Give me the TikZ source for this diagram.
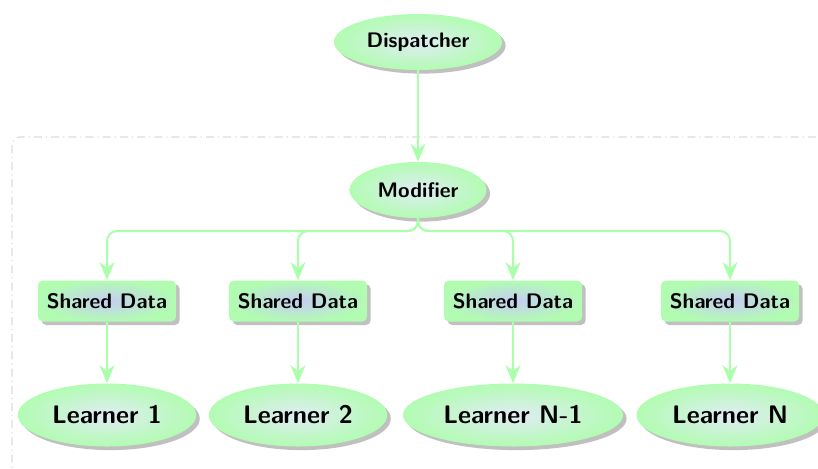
\documentclass[tikz,border=0pt]{standalone}
\usetikzlibrary{shapes.geometric,shadows,arrows.meta}
\definecolor{linkgreen}{RGB}{170,255,170}
\definecolor{framegray}{RGB}{220,220,220}
\definecolor{rimgreen}{RGB}{178,252,178}
\definecolor{ellcore}{RGB}{224,236,244}
\definecolor{boxcore}{RGB}{198,204,245}
\tikzset{
  shade fill/.style={outer color=rimgreen,
    drop shadow={shadow xshift=1.8pt, shadow yshift=-1.8pt, opacity=.45, fill=black!55}},
  smallell/.style={ellipse, shade fill, inner color=ellcore, inner xsep=4pt, minimum height=28pt,
    font=\sffamily\bfseries\fontsize{10.5}{12}\selectfont},
  bigell/.style={ellipse, shade fill, inner color=ellcore, inner xsep=4.1pt, minimum height=31.5pt,
    font=\sffamily\bfseries\fontsize{12.7}{15}\selectfont},
  databox/.style={rectangle, rounded corners=2.5pt, shade fill, inner color=boxcore, inner xsep=4.5pt,
    minimum height=20.5pt, font=\sffamily\bfseries\fontsize{10.5}{12}\selectfont},
  link/.style={draw=linkgreen, line width=1pt,
    -{Stealth[length=9pt, width=7.5pt, inset=3pt]}},
  frame/.style={draw=framegray, line width=0.6pt,
    dash pattern=on 4pt off 2pt on 0.6pt off 2pt, rounded corners=4pt}
}
\begin{document}
\begin{tikzpicture}[x=0.5pt, y=-0.5pt]
  \useasboundingbox (0,0) rectangle (818,468);
  \clip (0,0) rectangle (818,468);

  % enclosing frame of the worker group
  \draw[frame] (12,137) rectangle (860,500);

  % nodes
  \node[smallell] (disp) at (418,42) {Dispatcher};
  \node[smallell] (mod) at (418,190) {Modifier};

  \node[databox] (sd1) at (107,301) {Shared Data};
  \node[databox] (sd2) at (298,301) {Shared Data};
  \node[databox] (sd3) at (513,301) {Shared Data};
  \node[databox] (sd4) at (730,301) {Shared Data};

  \node[bigell] (l1) at (107,415) {Learner 1};
  \node[bigell] (l2) at (298,415) {Learner 2};
  \node[bigell] (l3) at (513,415) {Learner N-1};
  \node[bigell] (l4) at (730,415) {Learner N};

  % branching point under the modifier
  \coordinate (fork) at (418,231);

  % connectors
  \draw[link] (disp) -- (mod);
  \foreach \i in {1,2,3,4} {
    \draw[link, rounded corners=5pt] (mod.south) -- (fork) -| (sd\i.north);
    \draw[link] (sd\i) -- (l\i);
  }
\end{tikzpicture}
\end{document}
